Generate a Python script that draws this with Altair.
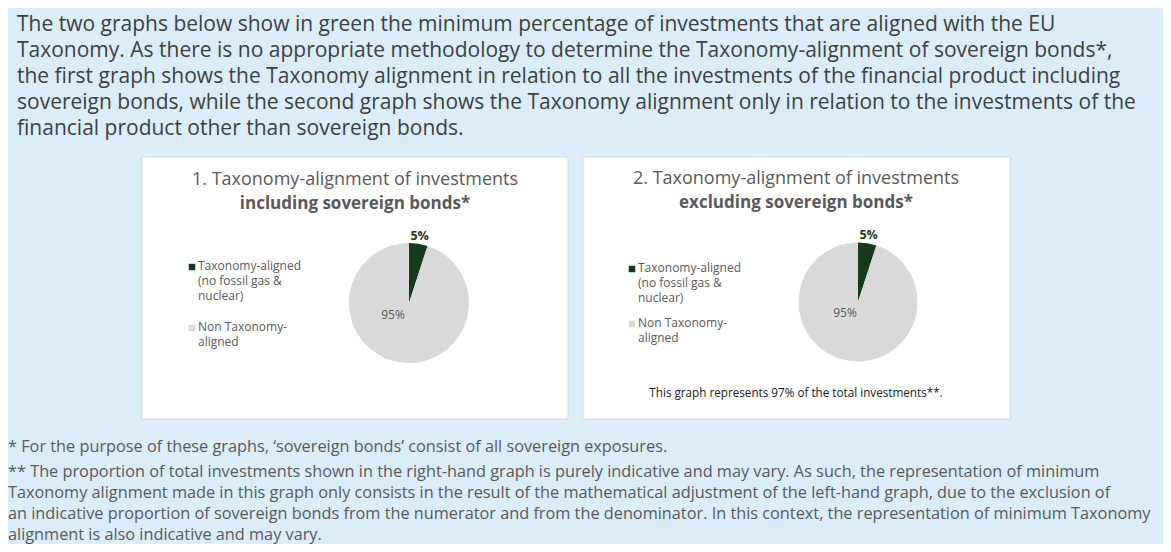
import altair as alt
import pandas as pd

# ---------------- data ----------------
categories = ["Taxonomy-aligned (no fossil gas & nuclear)", "Non Taxonomy-aligned"]
legend_labels = ["Taxonomy-aligned\n(no fossil gas &\nnuclear)", "Non Taxonomy-\naligned"]
values_incl = [5, 95]
values_excl = [5, 95]
pct_labels = ["5%", "95%"]
panel_title_1 = ["1. Taxonomy-alignment of investments", "including sovereign bonds*"]
panel_title_2 = ["2. Taxonomy-alignment of investments", "excluding sovereign bonds*"]
note_right = "This graph represents 97% of the total investments**."
header_lines = [
    "The two graphs below show in green the minimum percentage of investments that are aligned with the EU",
    "Taxonomy. As there is no appropriate methodology to determine the Taxonomy-alignment of sovereign bonds*,",
    "the first graph shows the Taxonomy alignment in relation to all the investments of the financial product including",
    "sovereign bonds, while the second graph shows the Taxonomy alignment only in relation to the investments of the",
    "financial product other than sovereign bonds.",
]
footnote_1 = ["* For the purpose of these graphs, \u2018sovereign bonds\u2019 consist of all sovereign exposures."]
footnote_2 = [
    "** The proportion of total investments shown in the right-hand graph is purely indicative and may vary. As such, the representation of minimum",
    "Taxonomy alignment made in this graph only consists in the result of the mathematical adjustment of the left-hand graph, due to the exclusion of",
    "an indicative proportion of sovereign bonds from the numerator and from the denominator. In this context, the representation of minimum Taxonomy",
    "alignment is also indicative and may vary.",
]

# ---------------- style / layout ----------------
W, H = 1155, 536
M = 8  # page margin
BG = "#DAEDF9"
GREEN = "#173A1C"
GREY = "#D9D9D9"
TXT = "#454545"
FONT = "Open Sans"
color_scale = alt.Scale(domain=categories, range=[GREEN, GREY])


def px(v):
    return v - M


def lines_chart(lines, x, y0, lh, size, color=TXT, weight="normal", align="left"):
    df = pd.DataFrame({"line": lines, "i": list(range(len(lines)))})
    return (
        alt.Chart(df)
        .transform_calculate(ly=f"{px(y0)} + datum.i * {lh}")
        .mark_text(align=align, baseline="middle", font=FONT, fontSize=size,
                   color=color, fontWeight=weight)
        .encode(x=alt.value(px(x)), y=alt.Y("ly:Q", scale=None), text="line:N")
    )


def panel(x1, y1, x2, y2):
    return alt.Chart(pd.DataFrame({"a": [0]})).mark_rect(
        fill="white", stroke="#D6D6D6", strokeWidth=1
    ).encode(x=alt.value(px(x1)), x2=alt.value(px(x2)),
             y=alt.value(px(y1)), y2=alt.value(px(y2)))


def pie(values, cx, cy, r, out_r, in_dx, in_dy):
    df = pd.DataFrame({"category": categories, "value": values,
                       "label": pct_labels, "k": [0, 1]})
    arc = alt.Chart(df).mark_arc(radius=r).encode(
        theta=alt.Theta("value:Q", stack=True),
        color=alt.Color("category:N", scale=color_scale, legend=None),
        order=alt.Order("k:Q"),
        x=alt.value(px(cx)), y=alt.value(px(cy)),
    )
    base = (
        alt.Chart(df)
        .transform_joinaggregate(total="sum(value)")
        .transform_window(cum="sum(value)", sort=[alt.SortField("k")])
        .transform_calculate(ang="2*PI*(datum.cum - datum.value/2)/datum.total")
    )
    outer = (
        base.transform_filter("datum.k == 0")
        .transform_calculate(lx=f"{px(cx)} + {out_r}*sin(datum.ang)",
                             ly=f"{px(cy)} - {out_r}*cos(datum.ang)")
        .mark_text(font=FONT, fontSize=12.5, fontWeight="bold", color=GREEN,
                   baseline="middle", align="center")
        .encode(x=alt.X("lx:Q", scale=None), y=alt.Y("ly:Q", scale=None), text="label:N")
    )
    inner = (
        base.transform_filter("datum.k == 1")
        .mark_text(font=FONT, fontSize=12, color="#595959",
                   baseline="middle", align="center")
        .encode(x=alt.value(px(cx + in_dx)), y=alt.value(px(cy + in_dy)), text="label:N")
    )
    return arc + outer + inner


def legend(mx, y_first, gap, lh):
    df = pd.DataFrame({"category": categories, "text": legend_labels, "k": [0, 1]})
    base = alt.Chart(df).transform_calculate(ly=f"{px(y_first)} + datum.k * {gap}")
    marks = base.mark_square(size=42, opacity=1).encode(
        x=alt.value(px(mx)), y=alt.Y("ly:Q", scale=None),
        color=alt.Color("category:N", scale=color_scale, legend=None),
    )
    texts = base.transform_calculate(ty=f"datum.ly - 6").mark_text(
        align="left", baseline="top", font=FONT, fontSize=12, color="#595959",
        lineBreak="\n", lineHeight=lh,
    ).encode(x=alt.value(px(mx + 6)), y=alt.Y("ty:Q", scale=None), text="text:N")
    return marks + texts


layers = [
    lines_chart(header_lines, 17, 25, 26, 21, color="#404040"),
    panel(142, 157, 568, 419),
    panel(583, 157, 1010, 419),
    lines_chart(panel_title_1[:1], 355, 180, 0, 18, color="#595959", align="center"),
    lines_chart(panel_title_1[1:], 355, 204, 0, 17, color="#595959", weight="bold", align="center"),
    lines_chart(panel_title_2[:1], 796, 179, 0, 18, color="#595959", align="center"),
    lines_chart(panel_title_2[1:], 796, 203, 0, 17, color="#595959", weight="bold", align="center"),
    pie(values_incl, 409, 303, 60, 68, -16, 12),
    pie(values_excl, 858, 302, 59.5, 68, -13, 11),
    legend(192, 267, 61, 15),
    legend(632, 269, 55, 15),
    lines_chart([note_right], 796, 393, 0, 11.7, color="#1A1A1A", align="center"),
    lines_chart(footnote_1, 8, 447, 0, 16.3, color="#595959"),
    lines_chart(footnote_2, 8, 472, 21, 16.3, color="#595959"),
]

chart = (
    alt.layer(*layers)
    .properties(width=W, height=H, background=BG, padding=0,
                autosize=alt.AutoSizeParams(type="none"))
    .configure_view(stroke=None, fill=BG)
)

chart.save("out.html", embed_options={"renderer": "svg", "actions": False})
